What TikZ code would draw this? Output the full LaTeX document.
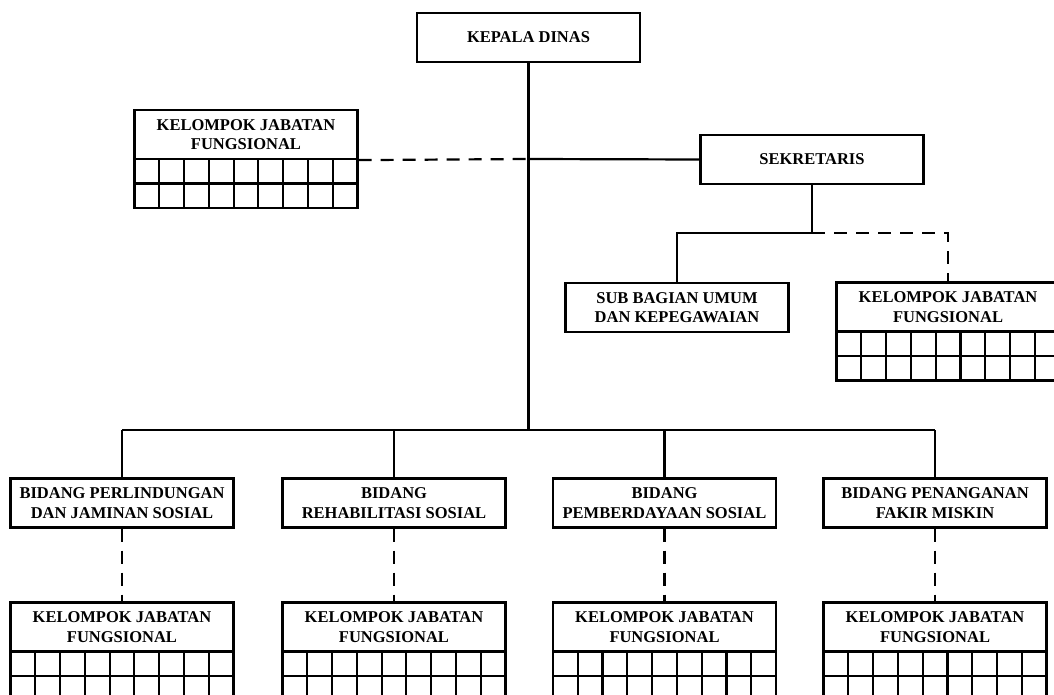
\documentclass[tikz,border=0pt]{standalone}
\usepackage{fontspec}
\setmainfont{Liberation Serif}
\usetikzlibrary{calc}
\tikzset{
  ln/.style={line width=2.2pt},
  dln/.style={line width=2.2pt, dash pattern=on 13pt off 9pt},
  unit/.style={draw, line width=2.2pt, fill=white, minimum width=223pt, minimum height=49pt,
    inner sep=0pt, align=center, font=\fontsize{16.5}{19.5}\selectfont\bfseries},
}
\newcommand\kjfgrid[2]{%
  \foreach \i in {1,...,8} {\draw[ln] ({#1+\i*223/9},#2) -- ++(0,49);}
  \draw[ln] (#1,{#2+24.5}) -- ++(223,0);
  \draw[ln] (#1,#2) rectangle ++(223,49);
}
\begin{document}
\begin{tikzpicture}[x=1pt,y=-1pt]
\useasboundingbox (0,0) rectangle (1054,695);
\coordinate (busL) at (122,430);
\coordinate (busR) at (935,430);
\coordinate (busM) at (528.5,430);
\coordinate (bus2) at (394,430);
\coordinate (bus3) at (664.5,430);
\coordinate (jn) at (528.5,159);
\coordinate (sj) at (812,233);
\coordinate (sjL) at (677,233);
\coordinate (sjR) at (948,233);

\node[unit] (kd) at (528.5,37.5) {KEPALA DINAS};
\node[unit] (kjfL) at (246,134.5) {KELOMPOK JABATAN\\FUNGSIONAL};
\kjfgrid{134.5}{159}
\node[unit] (sek) at (812,159.5) {SEKRETARIS};
\node[unit] (sub) at (677,307.5) {SUB BAGIAN UMUM\\DAN KEPEGAWAIAN};
\node[unit] (kjfR) at (948,307) {KELOMPOK JABATAN\\FUNGSIONAL};
\kjfgrid{836.5}{331.5}

\node[unit] (b1) at (122,503) {BIDANG PERLINDUNGAN\\DAN JAMINAN SOSIAL};
\node[unit] (b2) at (394,503) {BIDANG\\REHABILITASI SOSIAL};
\node[unit] (b3) at (664.5,503) {BIDANG\\PEMBERDAYAAN SOSIAL};
\node[unit] (b4) at (935,503) {BIDANG PENANGANAN\\FAKIR MISKIN};

\node[unit] (k1) at (122,627) {KELOMPOK JABATAN\\FUNGSIONAL};
\kjfgrid{10.5}{651.5}
\node[unit] (k2) at (394,627) {KELOMPOK JABATAN\\FUNGSIONAL};
\kjfgrid{282.5}{651.5}
\node[unit] (k3) at (664.5,627) {KELOMPOK JABATAN\\FUNGSIONAL};
\kjfgrid{553}{651.5}
\node[unit] (k4) at (935,627) {KELOMPOK JABATAN\\FUNGSIONAL};
\kjfgrid{823.5}{651.5}

% connectors
\draw[ln] (kd.south) -- (busM);
\draw[dln] (kjfL.south east) -- (jn);
\draw[ln] (jn) -- (sek.west);
\draw[ln] (sek.south) -- (sj);
\draw[ln] (sj) -- (sjL) -- (sub.north);
\draw[dln] (sj) -- (sjR) -- (kjfR.north);
\draw[ln] (busL) -- (busR);
\draw[ln] (busL) -- (b1.north);
\draw[ln] (bus2) -- (b2.north);
\draw[ln] (bus3) -- (b3.north);
\draw[ln] (busR) -- (b4.north);
\draw[dln] (b1.south) -- (k1.north);
\draw[dln] (b2.south) -- (k2.north);
\draw[dln] (b3.south) -- (k3.north);
\draw[dln] (b4.south) -- (k4.north);
\end{tikzpicture}
\end{document}
